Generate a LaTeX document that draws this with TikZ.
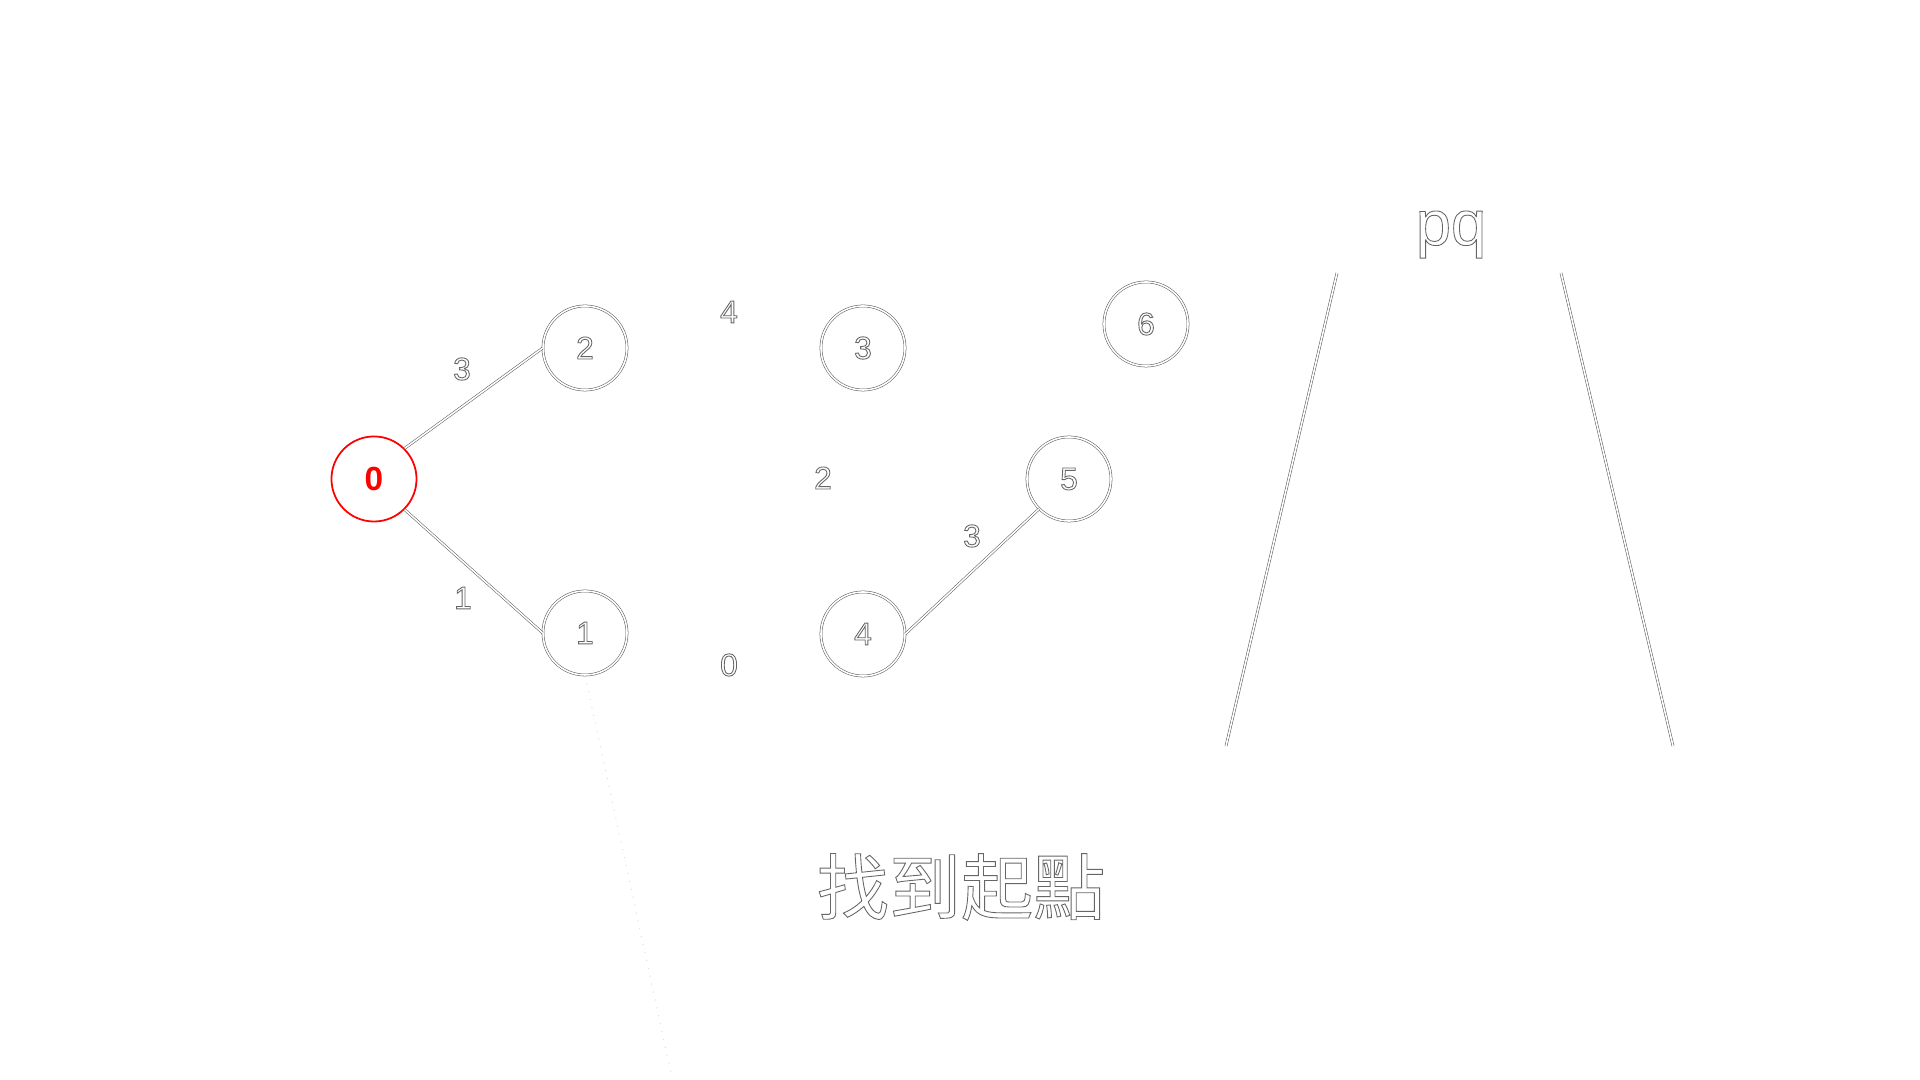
\documentclass[tikz,border=0pt]{standalone}
\usepackage{fontspec}
\setmainfont{Liberation Sans}
\newfontfamily\cjk{Noto Sans CJK TC}
\usepackage{xcolor}
\usetikzlibrary{calc}

% hollow letters: stroke only, thin grey rim
\newcommand{\rimtext}[1]{{\color{gray!80!black}\special{pdf:literal direct 1 Tr 0.25 w}#1\special{pdf:literal direct 0 Tr}}}

\begin{document}
\begin{tikzpicture}[x=0.01cm,y=-0.01cm,
    rim/.style={draw=gray!70!black, line width=0.15pt, double=white, double distance=0.45pt},
    vert/.style={circle, rim, minimum size=0.84cm, inner sep=0pt, font=\fontsize{9}{9}\selectfont},
    wlabel/.style={font=\fontsize{9}{9}\selectfont}]
      \useasboundingbox (0,0) rectangle (1920,1080);

      % Vertices
      \node[circle, draw=red, line width=0.5pt, fill=white, minimum size=0.85cm, inner sep=0pt,
            text=red, font=\fontsize{9.5}{9.5}\selectfont\bfseries] (v0) at (374,479) {0};
      \node[vert] (v1) at (585,633) {\rimtext{1}};
      \node[vert] (v2) at (585,348) {\rimtext{2}};
      \node[vert] (v3) at (863,348) {\rimtext{3}};
      \node[vert] (v4) at (863,634) {\rimtext{4}};
      \node[vert] (v5) at (1069,479) {\rimtext{5}};
      \node[vert] (v6) at (1146,324) {\rimtext{6}};

      % Edges
      \draw[rim] (v0.north east) -- (v2.west);
      \draw[rim] (v0.south east) -- (v1.west);
      \draw[rim] (v4.east) -- (v5.south west);

      % Weights
      \node[wlabel] (w02) at (462,369) {\rimtext{3}};
      \node[wlabel] (w01) at (463,598) {\rimtext{1}};
      \node[wlabel] (w23) at (729,312) {\rimtext{4}};
      \node[wlabel] (w34) at (823,478) {\rimtext{2}};
      \node[wlabel] (w14) at (729,665) {\rimtext{0}};
      \node[wlabel] (w45) at (972,536) {\rimtext{3}};

      % Queue
      \node[anchor=base, font=\fontsize{18}{18}\selectfont] (pq) at (1451,245) {\rimtext{pq}};
      \coordinate (qtl) at (1337,273);
      \coordinate (qbl) at (1226,746);
      \coordinate (qtr) at (1561,273);
      \coordinate (qbr) at (1673,746);
      \draw[rim] (qtl) -- (qbl);
      \draw[rim] (qtr) -- (qbr);

      % Pointer
      \coordinate (ptr) at (672,1078);
      \draw[gray!25, dotted, line width=0.3pt] (v1.south) -- (ptr);

      % Caption
      \node[font=\fontsize{20.5}{20.5}\selectfont\cjk] (cap) at (961,887) {\rimtext{找到起點}};
\end{tikzpicture}
\end{document}
